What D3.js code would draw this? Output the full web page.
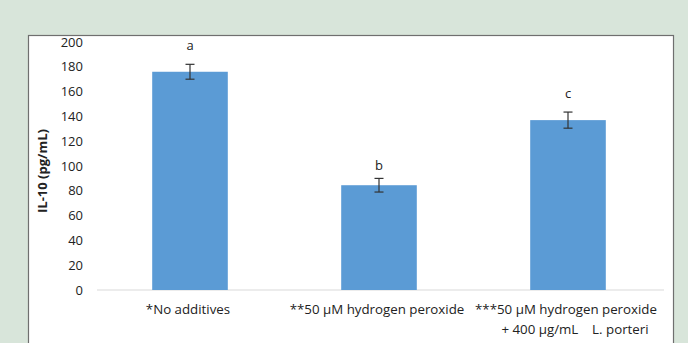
<!DOCTYPE html>
<html>
<head>
<meta charset="utf-8">
<script src="https://cdn.jsdelivr.net/npm/d3@7"></script>
<style>
  body { margin: 0; background: #d8e5da; }
  svg { display: block; font-family: "Open Sans", "Noto Sans", sans-serif; }
</style>
</head>
<body>
<script>
// chart values
var categories = ["*No additives", "**50 \u00b5M hydrogen peroxide", "***50 \u00b5M hydrogen peroxide"];
var categoryLine2 = ["", "", "+ 400 \u00b5g/mL    L. porteri"];
var values = [176, 84.5, 137];
var errors = [6, 5.5, 6.5];
var letters = ["a", "b", "c"];
var yTicks = [0, 20, 40, 60, 80, 100, 120, 140, 160, 180, 200];

var svgWidth = 688;
var svgHeight = 343;

var svg = d3.select("body")
  .append("svg")
  .attr("width", svgWidth)
  .attr("height", svgHeight);

// white panel with gray frame
svg.append("rect")
  .attr("x", 28.5)
  .attr("y", 35.5)
  .attr("width", 645)
  .attr("height", 330)
  .attr("fill", "#fff")
  .attr("stroke", "#6f6f6f")
  .attr("stroke-width", 1.2);

// scales
var xScale = d3.scaleBand()
  .domain(categories)
  .range([95.5, 662.5])
  .paddingInner(0.6)
  .paddingOuter(0.3);

var yScale = d3.scaleLinear()
  .domain([0, 200])
  .range([290, 42]);

// y tick labels (no axis line)
var leftAxis = d3.axisLeft(yScale)
  .tickValues(yTicks)
  .tickSize(0)
  .tickPadding(0);

var yAxis = svg.append("g")
  .attr("transform", "translate(83, 0)")
  .call(leftAxis);
yAxis.select(".domain").remove();
yAxis.selectAll("text")
  .attr("font-size", 13)
  .attr("fill", "#222")
  .attr("font-family", "Open Sans, sans-serif");

// baseline
svg.append("line")
  .attr("x1", 97)
  .attr("x2", 664)
  .attr("y1", yScale(0))
  .attr("y2", yScale(0))
  .attr("stroke", "#d9d9d9")
  .attr("stroke-width", 1);

// bars
svg.selectAll(".bar")
  .data(values)
  .enter()
  .append("rect")
  .attr("class", "bar")
  .attr("x", (d, i) => xScale(categories[i]))
  .attr("width", xScale.bandwidth())
  .attr("y", d => yScale(d))
  .attr("height", d => yScale(0) - yScale(d))
  .attr("fill", "#5b9bd5");

// error bars
var errGroup = svg.selectAll(".err")
  .data(values)
  .enter()
  .append("g")
  .attr("class", "err")
  .attr("stroke", "#333")
  .attr("stroke-width", 1.2);

function cx(i) { return xScale(categories[i]) + xScale.bandwidth() / 2; }

errGroup.append("line")
  .attr("x1", (d, i) => cx(i))
  .attr("x2", (d, i) => cx(i))
  .attr("y1", (d, i) => yScale(d + errors[i]))
  .attr("y2", (d, i) => yScale(d - errors[i]));
errGroup.append("line")
  .attr("x1", (d, i) => cx(i) - 4.5)
  .attr("x2", (d, i) => cx(i) + 4.5)
  .attr("y1", (d, i) => yScale(d + errors[i]))
  .attr("y2", (d, i) => yScale(d + errors[i]));
errGroup.append("line")
  .attr("x1", (d, i) => cx(i) - 4.5)
  .attr("x2", (d, i) => cx(i) + 4.5)
  .attr("y1", (d, i) => yScale(d - errors[i]))
  .attr("y2", (d, i) => yScale(d - errors[i]));

// significance letters (gap above the error bar differs per label)
var letterGap = [14, 8, 14];
svg.selectAll(".letter")
  .data(values)
  .enter()
  .append("text")
  .attr("class", "letter")
  .attr("x", (d, i) => cx(i))
  .attr("y", (d, i) => yScale(d + errors[i]) - letterGap[i])
  .attr("text-anchor", "middle")
  .attr("font-size", 13)
  .attr("fill", "#222")
  .text((d, i) => letters[i]);

// category labels
svg.selectAll(".cat")
  .data(categories)
  .enter()
  .append("text")
  .attr("class", "cat")
  .attr("x", (d, i) => cx(i) - 2)
  .attr("y", 314)
  .attr("text-anchor", "middle")
  .attr("font-size", 13.3)
  .attr("fill", "#222")
  .text(d => d);

svg.selectAll(".cat2")
  .data(categoryLine2)
  .enter()
  .append("text")
  .attr("class", "cat2")
  .attr("x", (d, i) => cx(i) + 7)
  .attr("y", 334)
  .attr("text-anchor", "middle")
  .attr("font-size", 13.3)
  .attr("fill", "#222")
  .attr("xml:space", "preserve")
  .style("white-space", "pre")
  .text(d => d);

// y axis title
svg.append("text")
  .attr("transform", "translate(47, 171) rotate(-90)")
  .attr("text-anchor", "middle")
  .attr("font-size", 13)
  .attr("font-weight", "bold")
  .attr("fill", "#222")
  .text("IL-10 (pg/mL)");
</script>
</body>
</html>
